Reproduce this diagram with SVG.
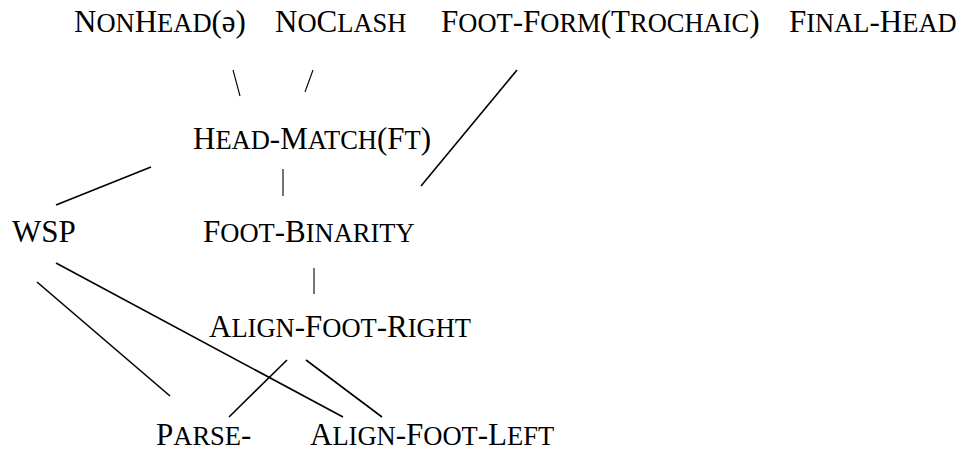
<svg xmlns="http://www.w3.org/2000/svg" width="960" height="451" viewBox="0 0 960 451">
<style>
text{font-family:"Liberation Serif","Times New Roman",serif;font-size:31px;fill:#000}
.s{font-size:26.5px}
.c line{stroke:#000;stroke-width:1.6;stroke-linecap:butt}
.c line.t{stroke-width:1.1}
</style>
<rect width="960" height="451" fill="#fff"/>
<g id="nonhead"><text x="74" y="32">N<tspan class="s">ON</tspan>H<tspan class="s">EAD</tspan>(ə)</text></g>
<g id="noclash"><text x="275" y="32">N<tspan class="s">O</tspan>C<tspan class="s">LASH</tspan></text></g>
<g id="footform"><text x="441" y="32">F<tspan class="s">OOT</tspan>-F<tspan class="s">ORM</tspan>(T<tspan class="s">ROCHAIC</tspan>)</text></g>
<g id="finalhead"><text x="789" y="32">F<tspan class="s">INAL</tspan>-H<tspan class="s">EAD</tspan></text></g>
<g id="headmatch"><text x="193" y="149">H<tspan class="s">EAD</tspan>-M<tspan class="s">ATCH</tspan>(F<tspan class="s">T</tspan>)</text></g>
<g id="wsp"><text x="12" y="242">WSP</text></g>
<g id="footbinarity"><text x="203" y="242">F<tspan class="s">OOT</tspan>-B<tspan class="s">INARITY</tspan></text></g>
<g id="alignfootright"><text x="209" y="337">A<tspan class="s">LIGN</tspan>-F<tspan class="s">OOT</tspan>-R<tspan class="s">IGHT</tspan></text></g>
<g id="parse"><text x="156" y="445">P<tspan class="s">ARSE</tspan>-</text></g>
<g id="alignfootleft"><text x="310" y="445">A<tspan class="s">LIGN</tspan>-F<tspan class="s">OOT</tspan>-L<tspan class="s">EFT</tspan></text></g>
<g id="connectors" class="c">
<line class="t" x1="233" y1="70" x2="240" y2="96"/>
<line class="t" x1="313" y1="70" x2="305" y2="92"/>
<line x1="517" y1="70" x2="421" y2="186"/>
<line x1="151" y1="167" x2="56" y2="205"/>
<line class="t" x1="283" y1="169" x2="283" y2="196"/>
<line class="t" x1="314" y1="268" x2="314" y2="294"/>
<line x1="56" y1="263" x2="343" y2="417"/>
<line x1="37" y1="282" x2="170" y2="396"/>
<line x1="287" y1="360" x2="229" y2="417"/>
<line x1="306" y1="360" x2="382" y2="417"/>
</g>
</svg>
